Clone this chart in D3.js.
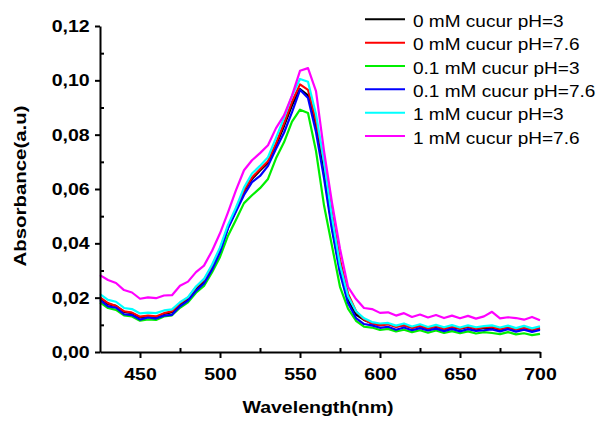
<!DOCTYPE html>
<html>
<head>
<meta charset="utf-8">
<script src="https://cdn.jsdelivr.net/npm/d3@7"></script>
<style>
  body { margin: 0; background: #fff; }
  svg { display: block; font-family: 'Liberation Sans', Arial, sans-serif; }
</style>
</head>
<body>
<div id="chart"></div>
<script>
'use strict';

// absorbance spectra, every 5 nm
const wavelengths = [
  425, 430, 435, 440, 445, 450, 455, 460, 465, 470,
  475, 480, 485, 490, 495, 500, 505, 510, 515, 520,
  525, 530, 535, 540, 545, 550, 555, 560, 565, 570,
  575, 580, 585, 590, 595, 600, 605, 610, 615, 620,
  625, 630, 635, 640, 645, 650, 655, 660, 665, 670,
  675, 680, 685, 690, 695, 700
];

const cucur0pH3 = [
  .0198, .0176, .0170, .0148, .0143, .0127, .0131, .0128, .0140, .0147,
  .0175, .0195, .0233, .0259, .0308, .0375, .0458, .0522, .0591, .0637,
  .0668, .0697, .0761, .0832, .0908, .0968, .0945, .0830, .0660, .0460,
  .0300, .0190, .0138, .0118, .0106, .0100, .0104, .0094, .0099, .0090,
  .0096, .0087, .0093, .0085, .0091, .0086, .0092, .0083, .0089, .0086,
  .0081, .0088, .0083, .0087, .0080, .0086
];

const cucur0pH76 = [
  .0201, .0180, .0169, .0150, .0145, .0130, .0134, .0131, .0143, .0150,
  .0179, .0200, .0239, .0265, .0315, .0378, .0461, .0525, .0595, .0642,
  .0673, .0702, .0768, .0842, .0921, .0985, .0965, .0850, .0700, .0510,
  .0340, .0215, .0150, .0120, .0104, .0098, .0102, .0092, .0099, .0089,
  .0097, .0086, .0095, .0084, .0093, .0087, .0094, .0085, .0091, .0092,
  .0084, .0090, .0083, .0089, .0082, .0088
];

const cucur01pH3 = [
  .0183, .0162, .0155, .0135, .0131, .0115, .0120, .0118, .0131, .0135,
  .0163, .0183, .0218, .0243, .0293, .0350, .0428, .0487, .0548, .0577,
  .0603, .0637, .0713, .0772, .0848, .0892, .0880, .0740, .0540, .0390,
  .0240, .0160, .0115, .0093, .0090, .0081, .0085, .0076, .0082, .0073,
  .0080, .0071, .0079, .0070, .0077, .0069, .0076, .0068, .0073, .0070,
  .0066, .0073, .0065, .0069, .0062, .0067
];

const cucur01pH76 = [
  .0191, .0168, .0163, .0139, .0136, .0119, .0127, .0123, .0134, .0137,
  .0168, .0189, .0225, .0252, .0303, .0367, .0455, .0517, .0578, .0625,
  .0648, .0685, .0748, .0807, .0883, .0965, .0935, .0810, .0640, .0450,
  .0290, .0180, .0125, .0103, .0098, .0089, .0093, .0082, .0090, .0080,
  .0088, .0079, .0086, .0077, .0085, .0076, .0084, .0078, .0080, .0083,
  .0076, .0084, .0075, .0082, .0074, .0081
];

const cucur1pH3 = [
  .0213, .0192, .0185, .0162, .0158, .0142, .0145, .0143, .0153, .0157,
  .0183, .0202, .0241, .0269, .0321, .0385, .0468, .0532, .0605, .0657,
  .0685, .0717, .0788, .0862, .0943, .1005, .0995, .0875, .0700, .0495,
  .0320, .0205, .0150, .0124, .0110, .0105, .0107, .0097, .0105, .0094,
  .0102, .0092, .0100, .0091, .0099, .0090, .0098, .0091, .0095, .0098,
  .0090, .0097, .0088, .0096, .0087, .0095
];

const cucur1pH76 = [
  .0283, .0265, .0254, .0228, .0219, .0196, .0201, .0198, .0208, .0209,
  .0244, .0259, .0294, .0318, .0372, .0437, .0514, .0596, .0669, .0706,
  .0732, .0761, .0824, .0871, .0944, .1035, .1045, .0960, .0740, .0550,
  .0380, .0240, .0195, .0162, .0158, .0144, .0146, .0134, .0143, .0129,
  .0138, .0127, .0136, .0125, .0134, .0124, .0133, .0123, .0131, .0148,
  .0124, .0128, .0125, .0119, .0129, .0117
];

const seriesNames = [
  '0 mM cucur pH=3',
  '0 mM cucur pH=7.6',
  '0.1 mM cucur pH=3',
  '0.1 mM cucur pH=7.6',
  '1 mM cucur pH=3',
  '1 mM cucur pH=7.6'
];
const seriesValues = [cucur0pH3, cucur0pH76, cucur01pH3, cucur01pH76, cucur1pH3, cucur1pH76];
const seriesColors = ['#000000', '#ff0000', '#00ee00', '#0000ff', '#00ffff', '#ff00ff'];

const xTicks = [450, 500, 550, 600, 650, 700];
const xMinorTicks = [475, 525, 575, 625, 675];
const yTicks = [0, 0.02, 0.04, 0.06, 0.08, 0.10, 0.12];
const yMinorTicks = [0.01, 0.03, 0.05, 0.07, 0.09, 0.11];

drawChart('#chart');

function drawChart(el) {
  const width = 596;
  const height = 421;
  const left = 100;
  const right = 540;
  const top = 26;
  const bottom = 352;
  const stretch = 'scale(1.15,1)'; // the original text is a bit wider than Arial

  const svg = d3.select(el)
    .append('svg')
    .attr('width', width)
    .attr('height', height);

  const scaleX = d3.scaleLinear()
    .domain([425, 700])
    .range([left, right]);

  const scaleY = d3.scaleLinear()
    .domain([0, 0.12])
    .range([bottom, top]);

  // curves
  const line = d3.line()
    .x((d, i) => scaleX(wavelengths[i]))
    .y(d => scaleY(d));

  svg.selectAll('path.curve')
    .data(seriesValues)
    .enter()
    .append('path')
    .attr('class', 'curve')
    .attr('d', line)
    .attr('fill', 'none')
    .attr('stroke', (d, i) => seriesColors[i])
    .attr('stroke-width', 2.2)
    .attr('stroke-linejoin', 'round');

  // minor ticks point inwards
  svg.append('g')
    .attr('transform', `translate(0, ${bottom})`)
    .call(d3.axisBottom(scaleX).tickValues(xMinorTicks).tickSize(-4).tickFormat(''))
    .call(g => g.select('.domain').remove());

  svg.append('g')
    .attr('transform', `translate(${left}, 0)`)
    .call(d3.axisLeft(scaleY).tickValues(yMinorTicks).tickSize(-4).tickFormat(''))
    .call(g => g.select('.domain').remove());

  // x axis
  const xAxis = svg.append('g')
    .attr('class', 'axisX')
    .attr('transform', `translate(0, ${bottom})`)
    .call(d3.axisBottom(scaleX).tickValues(xTicks).tickSize(6).tickSizeOuter(0).tickPadding(10));

  // y axis
  const yAxis = svg.append('g')
    .attr('class', 'axisY')
    .attr('transform', `translate(${left}, 0)`)
    .call(d3.axisLeft(scaleY)
      .tickValues(yTicks)
      .tickSize(5)
      .tickSizeOuter(0)
      .tickPadding(4)
      .tickFormat(d => d3.format('.2f')(d).replace('.', ',')));

  svg.selectAll('.tick line').attr('stroke', '#000').attr('stroke-width', 2);
  svg.selectAll('.domain').attr('stroke', '#000').attr('stroke-width', 2);

  [xAxis, yAxis].forEach(a => a.selectAll('text')
    .attr('fill', '#000')
    .attr('font-family', "'Liberation Sans', Arial, sans-serif")
    .attr('font-size', 17)
    .attr('font-weight', 'bold')
    .attr('transform', stretch));

  // axis titles
  svg.append('text')
    .attr('transform', `translate(${(left + right) / 2 - 2}, 413) ${stretch}`)
    .attr('text-anchor', 'middle')
    .attr('font-size', 17)
    .attr('font-weight', 'bold')
    .text('Wavelength(nm)');

  svg.append('text')
    .attr('transform', `translate(26, 186) rotate(-90) scale(1.2,1)`)
    .attr('text-anchor', 'middle')
    .attr('font-size', 17)
    .attr('font-weight', 'bold')
    .text('Absorbance(a.u)');

  // legend
  const legend = svg.append('g')
    .attr('class', 'legend')
    .attr('transform', 'translate(365, 19.3)');

  const item = legend.selectAll('g')
    .data(seriesNames)
    .enter()
    .append('g')
    .attr('transform', (d, i) => `translate(0, ${i * 23.35})`);

  item.append('line')
    .attr('x1', 0)
    .attr('x2', 40)
    .attr('stroke', (d, i) => seriesColors[i])
    .attr('stroke-width', 2);

  item.append('text')
    .attr('transform', `translate(48, 7.5) scale(1.12,1)`)
    .attr('font-size', 17)
    .text(d => d);
}
</script>
</body>
</html>
